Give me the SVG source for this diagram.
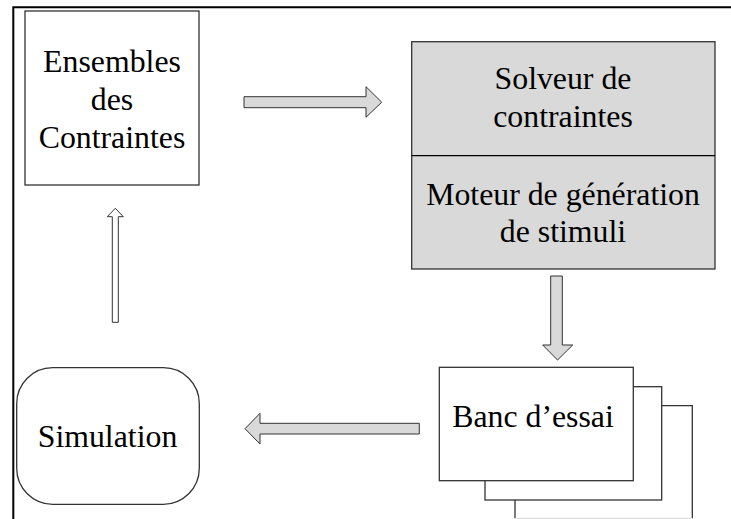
<svg xmlns="http://www.w3.org/2000/svg" width="731" height="519" viewBox="0 0 731 519">
<style>
text{font-family:'Liberation Serif','Times New Roman','DejaVu Serif',serif;font-size:31.8px;fill:#000;text-anchor:middle}
.box{fill:#fff;stroke:#333;stroke-width:1.3}
.gray{fill:#d9d9d9;stroke:#333;stroke-width:1.3}
.arr{fill:#d9d9d9;stroke:#333;stroke-width:1}
.arrw{fill:#fff;stroke:#333;stroke-width:1}
</style>
<rect width="731" height="519" fill="#fff"/>
<g id="frame" fill="none" stroke="#000" stroke-width="2">
<path d="M13.3,519 V7.3 H731"/>
</g>
<g id="ensembles">
<rect class="box" x="25" y="11" width="174" height="174"/>
<text x="112" y="72">Ensembles</text>
<text x="112" y="110">des</text>
<text x="112" y="148">Contraintes</text>
</g>
<g id="solveur">
<rect class="gray" x="411.7" y="41.7" width="303.3" height="227.3"/>
<line x1="411.7" y1="155.7" x2="715" y2="155.7" stroke="#000" stroke-width="1.3"/>
<text x="563" y="89">Solveur de</text>
<text x="563" y="127">contraintes</text>
<text x="563" y="205">Moteur de génération</text>
<text x="563" y="241.5">de stimuli</text>
</g>
<g id="banc">
<path d="M515,518.3 V405.7 H692.3 V518.3" fill="#fff" stroke="#333" stroke-width="1.3"/>
<line x1="515" y1="518.3" x2="692.3" y2="518.3" stroke="#ddd" stroke-width="1.3"/>
<rect class="box" x="485" y="386.7" width="176.7" height="113.3"/>
<rect class="box" x="439.3" y="367.3" width="194" height="113.4"/>
<text x="533" y="426.7">Banc d’essai</text>
</g>
<g id="simulation">
<rect class="box" x="16.7" y="367.7" width="182.6" height="136.6" rx="36" ry="36" stroke="#000"/>
<text x="107.5" y="446.7">Simulation</text>
</g>
<g id="connectors">
<path class="arr" d="M244,96.7 H366 V86.7 L381.7,102.2 L366,117.3 V107.7 H244 Z"/>
<path class="arr" d="M550.7,276 H562.3 V345 H572.7 L557.5,360 L542.7,345 H550.7 Z"/>
<path class="arr" d="M419.3,423.3 V434 H260 V444 L245,428.7 L260,413.3 V423.3 Z"/>
<path class="arrw" d="M112.3,322.3 V216.7 H107.3 L115.3,208.3 L123.3,216.7 H118.3 V322.3 Z"/>
</g>
</svg>
